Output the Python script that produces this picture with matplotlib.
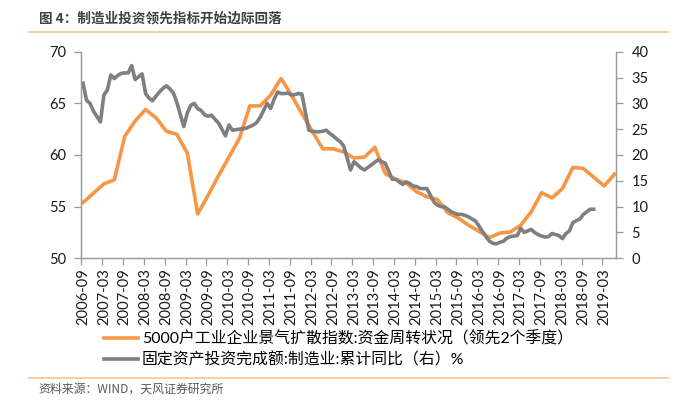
import numpy as np
import pandas as pd
import matplotlib
matplotlib.use("Agg")
import matplotlib.pyplot as plt
from matplotlib.lines import Line2D

plt.rcParams['font.family'] = ['Lato', 'Noto Sans CJK SC', 'DejaVu Sans']

# ── 数据 ──────────────────────────────────────
# 月度类目轴: 2006-09 ~ 2019-06
months = pd.period_range('2006-09', '2019-06', freq='M')
tick_labels = [p.strftime('%Y-%m') for p in months[::6]]

label_or = '5000户工业企业景气扩散指数:资金周转状况（领先2个季度）'
label_gr = '固定资产投资完成额:制造业:累计同比（右）%'

# 季度数据(已领先2个季度), 从 2006-09 起每3个月一个点
orange_q = [55.4, 56.3, 57.2, 57.6, 61.8, 63.3, 64.4, 63.6, 62.3, 62.0,
            60.2, 54.3, 56.1, 58.0, 59.8, 61.6, 64.75, 64.75, 65.8, 67.4,
            65.8, 64.0, 62.3, 60.6, 60.6, 60.3, 59.7, 59.8, 60.75, 58.2,
            57.65, 57.3, 56.45, 55.95, 55.7, 54.4, 53.9, 53.2, 52.6, 52.0,
            52.45, 52.55, 53.2, 54.5, 56.35, 55.85, 56.75, 58.8, 58.7, 57.85,
            57.0, 58.15]

# 月度累计同比, 2006-09 ~ 2018-12, 1月无数据
gray_m = [33.9, 30.6, 30.0, 28.5,                                                   # 2006 9-12
          None, 26.4, 31.6, 32.6, 35.5, 34.8, 35.4, 35.8, 35.9, 35.9, 37.3, 34.6,   # 2007
          None, 35.7, 31.9, 31.0, 30.5, 31.4, 32.2, 32.9, 33.4, 32.8, 32.0, 30.2,   # 2008
          None, 25.5, 28.1, 29.6, 30.0, 29.0, 28.6, 27.8, 27.5, 27.7, 26.9, 26.2,   # 2009
          None, 23.7, 25.8, 24.8, 24.9, 25.0, 25.1, 25.2, 25.5, 25.8, 26.3, 27.3,   # 2010
          None, 30.0, 29.0, 30.8, 32.2, 31.9, 31.9, 32.0, 31.6, 31.7, 31.9, 31.8,   # 2011
          None, 24.8, 24.6, 24.5, 24.5, 24.6, 24.8, 24.2, 23.7, 23.1, 22.6, 21.8,   # 2012
          None, 17.1, 18.7, 18.1, 17.5, 17.1, 17.6, 18.1, 18.6, 19.1, 18.7, 18.4,   # 2013
          None, 15.3, 15.3, 14.8, 14.3, 14.8, 14.5, 14.0, 13.9, 13.5, 13.5, 13.5,   # 2014
          None, 10.9, 10.3, 10.0, 10.0, 9.5, 9.0, 8.7, 8.5, 8.5, 8.3, 8.0,          # 2015
          None, 7.2, 6.2, 5.2, 4.2, 3.3, 2.9, 2.8, 3.1, 3.3, 3.9, 4.2,              # 2016
          None, 4.4, 5.8, 5.0, 5.3, 5.6, 5.0, 4.6, 4.3, 4.1, 4.2, 4.8,              # 2017
          None, 4.4, 3.8, 4.8, 5.3, 6.9, 7.3, 7.6, 8.5, 9.0, 9.5, 9.5]              # 2018

ORANGE = '#F79646'
GRAY = '#7F7F7F'
AXCOL = '#9A9A9A'
W, H = 700, 408

# ── 画布 ──────────────────────────────────────
fig = plt.figure(figsize=(W / 100, H / 100), dpi=100)
ax = fig.add_axes([81.3 / W, 1 - 258.3 / H, (616.3 - 81.3) / W, (258.3 - 51.7) / H])
ax2 = ax.twinx()

x_or = np.arange(len(orange_q)) * 3 + 0.5
ax.plot(x_or, orange_q, color=ORANGE, lw=2.6, solid_joinstyle='round', label=label_or)

g = np.array(gray_m, dtype=float)
ok = ~np.isnan(g)
x_gr = np.arange(len(g))[ok] + 0.5
ax2.plot(x_gr, g[ok], color=GRAY, lw=2.6, solid_joinstyle='round', label=label_gr)

ax.set_xlim(0, len(months))
ax.set_ylim(50, 70)
ax2.set_ylim(0, 40)
ax.set_yticks(np.arange(50, 71, 5))
ax2.set_yticks(np.arange(0, 41, 5))

# 刻度线在类目边界, 标签居中于类目
ax.set_xticks(np.arange(0, len(months), 6))
ax.set_xticklabels([])
ax.set_xticks(np.arange(0, len(months), 6) + 0.5, minor=True)
ax.set_xticklabels(tick_labels, minor=True, rotation=90, fontsize=10.6)
ax.tick_params(axis='x', which='major', length=5, width=0.9, color=AXCOL, direction='out')
ax.tick_params(axis='x', which='minor', length=0, pad=7, labelcolor='#1a1a1a')
ax.tick_params(axis='y', length=5, width=0.9, color=AXCOL, labelsize=10.5,
               labelcolor='#1a1a1a', pad=6)
ax2.tick_params(axis='y', length=5, width=0.9, color=AXCOL, labelsize=10.5,
                labelcolor='#1a1a1a', pad=6)

for a in (ax, ax2):
    a.spines['top'].set_visible(False)
    for s in ('left', 'right', 'bottom'):
        a.spines[s].set_color(AXCOL)
        a.spines[s].set_linewidth(0.9)

# ── 图例 ──────────────────────────────────────
h1, l1 = ax.get_legend_handles_labels()
h2, l2 = ax2.get_legend_handles_labels()
fig.legend(h1 + h2, l1 + l2, loc='upper left', bbox_to_anchor=(104 / W, 1 - 331.5 / H),
           frameon=False, fontsize=11.4, handlelength=2.15, handletextpad=0.25,
           labelspacing=0.3, borderpad=0, borderaxespad=0)

# ── 标题 / 来源 / 分隔线 ─────────────────────
fig.text(39 / W, 1 - 18.3 / H, '图 4：制造业投资领先指标开始边际回落', fontsize=9.8,
         fontweight='bold', color='#404040', va='center', ha='left',
         family=['Noto Sans CJK SC'])
fig.add_artist(Line2D([29 / W, 668 / W], [1 - 31.7 / H] * 2, color='#F9C49A', lw=1.2))
fig.add_artist(Line2D([29 / W, 668 / W], [1 - 378.3 / H] * 2, color='#F9C49A', lw=1.2))
fig.text(38 / W, 1 - 389.3 / H, '资料来源：WIND，天风证券研究所', fontsize=8.6,
         color='#595959', va='center', ha='left', family=['Noto Sans CJK SC'])

fig.savefig('out.png', dpi=100)
